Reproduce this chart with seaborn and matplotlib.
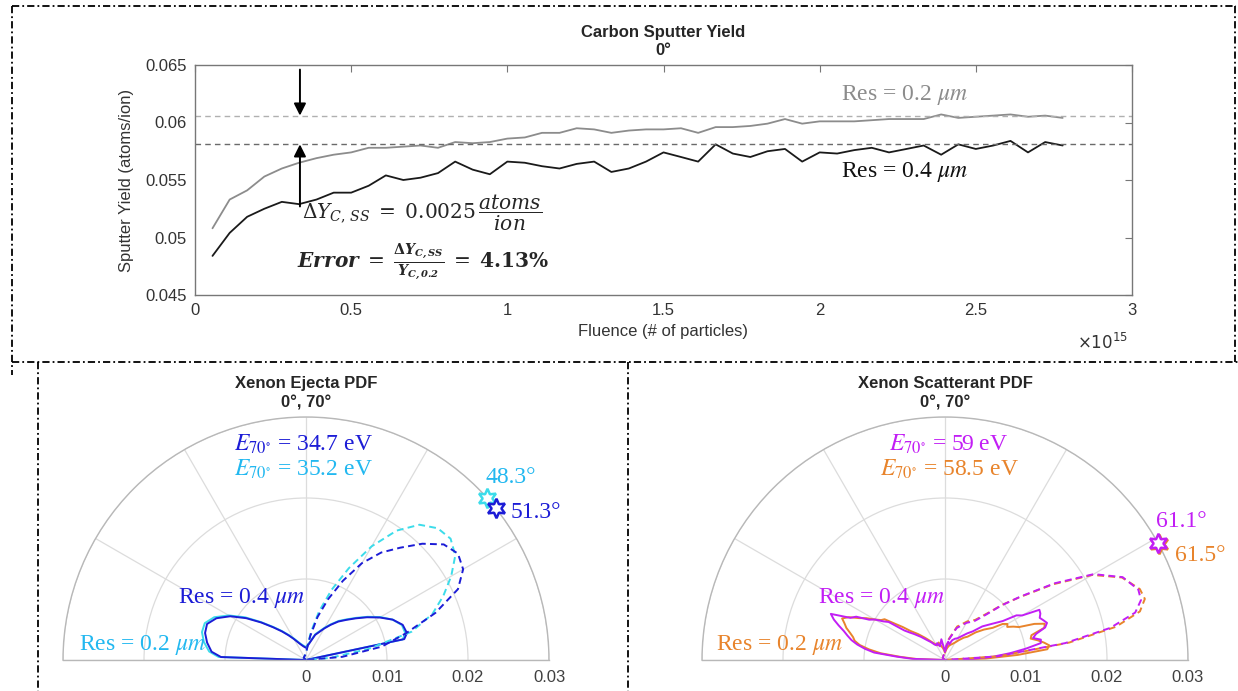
import numpy as np
import matplotlib
matplotlib.use("Agg")
import matplotlib.pyplot as plt
from matplotlib.lines import Line2D
import seaborn as sns

# ---------------- data : top panel ----------------
fluence_e15 = [0.056, 0.111, 0.167, 0.222, 0.278, 0.333, 0.389, 0.444, 0.500, 0.556,
               0.611, 0.667, 0.722, 0.778, 0.833, 0.889, 0.944, 1.000, 1.056, 1.111,
               1.167, 1.222, 1.278, 1.333, 1.389, 1.444, 1.500, 1.556, 1.611, 1.667,
               1.722, 1.778, 1.833, 1.889, 1.944, 2.000, 2.056, 2.111, 2.167, 2.222,
               2.278, 2.333, 2.389, 2.444, 2.500, 2.556, 2.611, 2.667, 2.722, 2.778]
yield_res02 = [0.0508, 0.0533, 0.0541, 0.0553, 0.0560, 0.0565, 0.0569, 0.0572, 0.0574, 0.0578,
               0.0578, 0.0579, 0.0580, 0.0578, 0.0583, 0.0582, 0.0583, 0.0586, 0.0587, 0.0591,
               0.0591, 0.0595, 0.0594, 0.0591, 0.0593, 0.0594, 0.0594, 0.0595, 0.0591, 0.0596,
               0.0596, 0.0597, 0.0599, 0.0603, 0.0599, 0.0601, 0.0601, 0.0601, 0.0602, 0.0603,
               0.0603, 0.0603, 0.0607, 0.0604, 0.0605, 0.0606, 0.0607, 0.0605, 0.0606, 0.0604]
yield_res04 = [0.0484, 0.0504, 0.0518, 0.0525, 0.0531, 0.0529, 0.0533, 0.0539, 0.0539, 0.0545,
               0.0554, 0.0550, 0.0552, 0.0556, 0.0566, 0.0559, 0.0555, 0.0566, 0.0565, 0.0562,
               0.0560, 0.0564, 0.0566, 0.0557, 0.0560, 0.0566, 0.0574, 0.0570, 0.0566, 0.0581,
               0.0573, 0.0570, 0.0575, 0.0577, 0.0566, 0.0574, 0.0573, 0.0576, 0.0578, 0.0574,
               0.0577, 0.0580, 0.0572, 0.0581, 0.0577, 0.0580, 0.0584, 0.0574, 0.0583, 0.0580]
steady_res02 = 0.0606
steady_res04 = 0.0581
x_ticks = [0, 0.5, 1, 1.5, 2, 2.5, 3]
x_tick_labels = ["0", "0.5", "1", "1.5", "2", "2.5", "3"]
y_ticks = [0.045, 0.05, 0.055, 0.06, 0.065]
y_tick_labels = ["0.045", "0.05", "0.055", "0.06", "0.065"]

# ---------------- data : Xenon ejecta PDF (angle from normal, deg) ----------------
ej_solid_theta = [-90, -88, -85, -80, -75, -70, -65, -60, -55, -50, -45, -40, -35, -30, -20, -10,
                  0, 10, 20, 30, 35, 40, 45, 50, 55, 60, 65, 70, 75, 78, 90]
ej_solid_r04 = [0, 0.0105, 0.0117, 0.0124, 0.0129, 0.0130, 0.0122, 0.0108, 0.0090, 0.0072, 0.0057,
                0.0046, 0.0037, 0.0030, 0.0021, 0.0017, 0.0015, 0.0020, 0.0033, 0.0045, 0.0053,
                0.0062, 0.0070, 0.0080, 0.0092, 0.0105, 0.0118, 0.0127, 0.0129, 0.0124, 0]
ej_solid_r02 = [0, 0.0108, 0.0120, 0.0128, 0.0133, 0.0133, 0.0125, 0.0110, 0.0092, 0.0073, 0.0058,
                0.0047, 0.0038, 0.0031, 0.0022, 0.0018, 0.0016, 0.0021, 0.0034, 0.0046, 0.0054,
                0.0063, 0.0071, 0.0081, 0.0093, 0.0106, 0.0118, 0.0126, 0.0127, 0.0122, 0]
ej_dash_theta = [-90, -45, 0, 5, 10, 15, 20, 25, 30, 35, 40, 45, 50, 55, 60, 65, 70, 75, 80, 85, 90]
ej_dash_r04 = [0, 0.0004, 0.0008, 0.0014, 0.0030, 0.0055, 0.0080, 0.0108, 0.0138, 0.0162, 0.0181,
               0.0203, 0.0222, 0.0229, 0.0224, 0.0207, 0.0170, 0.0128, 0.0095, 0.0045, 0]
ej_dash_r02 = [0, 0.0004, 0.0008, 0.0015, 0.0035, 0.0062, 0.0092, 0.0125, 0.0162, 0.0195, 0.0218,
               0.0230, 0.0233, 0.0225, 0.0207, 0.0187, 0.0166, 0.0135, 0.0078, 0.0030, 0]
ej_peak_r04, ej_peak_r02 = 51.3, 48.3
ej_E_r04, ej_E_r02 = "34.7", "35.2"

# ---------------- data : Xenon scatterant PDF ----------------
sc_solid_theta = [-90, -88, -86, -84, -82, -80, -78, -76, -74, -72, -70, -68, -66, -64, -62, -60,
                  -58, -56, -54, -52, -50, -46, -42, -38, -34, -30, -25, -20, -15, -10, -5, 0,
                  5, 10, 15, 20, 25, 30, 35, 40, 44, 48, 52, 56, 58, 60, 62, 64, 66, 68, 70, 72,
                  74, 76, 78, 80, 82, 84, 86, 88, 90]
sc_solid_r04 = [0, 0.0040, 0.0060, 0.0088, 0.0100, 0.0110, 0.0118, 0.0124, 0.0130, 0.0138, 0.0146,
                0.0152, 0.0128, 0.0122, 0.0106, 0.0100, 0.0090, 0.0084, 0.0062, 0.0055, 0.0050,
                0.0041, 0.0033, 0.0028, 0.0023, 0.0021, 0.0023, 0.0018, 0.0021, 0.0026, 0.0015,
                0.0010, 0.0018, 0.0023, 0.0020, 0.0026, 0.0029, 0.0031, 0.0036, 0.0043, 0.0049,
                0.0062, 0.0072, 0.0086, 0.0104, 0.0110, 0.0132, 0.0131, 0.0128, 0.0131, 0.0134,
                0.0130, 0.0117, 0.0112, 0.0121, 0.0120, 0.0101, 0.0081, 0.0060, 0.0031, 0]
sc_solid_r02 = [0, 0.0035, 0.0055, 0.0080, 0.0095, 0.0107, 0.0114, 0.0117, 0.0122, 0.0128, 0.0132,
                0.0137, 0.0130, 0.0118, 0.0110, 0.0100, 0.0093, 0.0090, 0.0076, 0.0066, 0.0056,
                0.0046, 0.0037, 0.0030, 0.0025, 0.0022, 0.0020, 0.0023, 0.0018, 0.0015, 0.0012,
                0.0009, 0.0012, 0.0015, 0.0018, 0.0020, 0.0022, 0.0025, 0.0030, 0.0036, 0.0040,
                0.0051, 0.0061, 0.0071, 0.0084, 0.0089, 0.0087, 0.0094, 0.0100, 0.0119, 0.0131,
                0.0129, 0.0111, 0.0109, 0.0117, 0.0124, 0.0130, 0.0127, 0.0090, 0.0050, 0]
sc_dash_theta = [-90, -45, 0, 10, 20, 30, 37, 42, 46, 50, 55, 60, 65, 70, 73, 76, 79, 82, 86, 90]
sc_dash_r04 = [0, 0.0004, 0.0010, 0.0025, 0.0042, 0.0053, 0.0060, 0.0075, 0.0097, 0.0122, 0.0165,
               0.0212, 0.0242, 0.0254, 0.0253, 0.0242, 0.0208, 0.0150, 0.0065, 0]
sc_dash_r02 = [0, 0.0004, 0.0010, 0.0026, 0.0044, 0.0055, 0.0062, 0.0077, 0.0098, 0.0121, 0.0163,
               0.0210, 0.0241, 0.0256, 0.0258, 0.0248, 0.0215, 0.0155, 0.0068, 0]
sc_peak_r04, sc_peak_r02 = 61.1, 61.5
sc_E_r04, sc_E_r02 = "59", "58.5"

r_ticks = [0, 0.01, 0.02, 0.03]
r_tick_labels = ["0", "0.01", "0.02", "0.03"]
theta_grid = [-90, -60, -30, 0, 30, 60, 90]

# ---------------- style ----------------
sns.set_style("white")
plt.rcParams["font.family"] = ["Liberation Sans", "DejaVu Sans"]
BLUE = "#1c1cd6"
CYAN_L = "#3cdcea"
CYAN_T = "#22b8f0"
PURPLE = "#c21ef5"
ORANGE = "#e8842c"
GRAY_TXT = "#333333"

W, H = 1238, 691
fig = plt.figure(figsize=(W / 100, H / 100), dpi=100)


def fbox(l, t, r, b):
    return [l / W, 1 - b / H, (r - l) / W, (b - t) / H]


def fx(px):
    return px / W


def fy(py):
    return 1 - py / H


# ---------------- top panel ----------------
ax = fig.add_axes(fbox(195, 65, 1132, 295))
sns.lineplot(x=fluence_e15, y=yield_res02, ax=ax, color="#8c8c8c", lw=1.3, legend=False)
sns.lineplot(x=fluence_e15, y=yield_res04, ax=ax, color="#1a1a1a", lw=1.3, legend=False)
ax.axhline(steady_res02, color="#b0b0b0", lw=1.0, ls=(0, (4, 3)))
ax.axhline(steady_res04, color="#6a6a6a", lw=1.0, ls=(0, (4, 3)))
ax.set_xlim(0, 3)
ax.set_ylim(0.045, 0.065)
ax.set_xticks(x_ticks, x_tick_labels)
ax.set_yticks(y_ticks, y_tick_labels)
ax.tick_params(direction="in", top=True, right=True, length=5, colors="#777777",
               labelcolor=GRAY_TXT, labelsize=12, pad=6)
for s in ax.spines.values():
    s.set_color("#777777")
    s.set_linewidth(1.0)
ax.set_xlabel("Fluence (# of particles)", fontsize=12, color=GRAY_TXT, labelpad=4)
ax.set_ylabel("Sputter Yield (atoms/ion)", fontsize=12, color=GRAY_TXT, labelpad=8)
ax.set_title("Carbon Sputter Yield\n0°", fontweight="bold", fontsize=12, pad=7, linespacing=1.25)
fig.text(fx(1128), fy(342), r"$\times10^{15}$", ha="right", va="center", fontsize=12,
         color=GRAY_TXT, math_fontfamily="dejavusans")

arrow_x = 0.336
ax.annotate("", xy=(arrow_x, steady_res02), xytext=(arrow_x, 0.0646),
            arrowprops=dict(arrowstyle="-|>", color="black", lw=1.4, mutation_scale=18,
                            shrinkA=0, shrinkB=0))
ax.annotate("", xy=(arrow_x, steady_res04), xytext=(arrow_x, 0.0527),
            arrowprops=dict(arrowstyle="-|>", color="black", lw=1.4, mutation_scale=18,
                            shrinkA=0, shrinkB=0))
delta_val = steady_res02 - steady_res04
ax.text(0.343, 0.0521, r"$\Delta Y_{C,\,SS}\;=\;%.4f\,\dfrac{atoms}{ion}$" % delta_val,
        fontsize=14.5, math_fontfamily="dejavuserif", va="center", ha="left")
ax.text(0.327, 0.0479,
        r"$\mathbfit{Error}\;=\;\frac{\mathbf{\Delta} \mathbfit{Y}_{\mathbfit{C,SS}}}"
        r"{\mathbfit{Y}_{\mathbfit{C,0.2}}}\;=\;\mathbf{4.13\%}$",
        fontsize=14.5, math_fontfamily="dejavuserif", va="center", ha="left")
ax.text(2.068, 0.0624, r"Res = 0.2 $\mu m$", color="#8c8c8c", family="Liberation Serif",
        math_fontfamily="stix", fontsize=17, va="center", ha="left")
ax.text(2.068, 0.0557, r"Res = 0.4 $\mu m$", color="#111111", family="Liberation Serif",
        math_fontfamily="stix", fontsize=17, va="center", ha="left")


# ---------------- polar panels ----------------
# polar half-disk sits vertically centred inside a square box: box side = 2*radius
def polar_panel(cx, cy, rad, title):
    pax = fig.add_axes(fbox(cx - rad, cy - 1.5 * rad, cx + rad, cy + 0.5 * rad),
                       projection="polar")
    pax.set_theta_zero_location("N")
    pax.set_theta_direction(-1)
    pax.set_thetamin(-90)
    pax.set_thetamax(90)
    pax.set_xticks(np.deg2rad(theta_grid))
    pax.set_xticklabels([])
    pax.set_rticks(r_ticks[1:])
    pax.set_yticklabels([])
    pax.grid(True, color="#dcdcdc", lw=0.9)
    for s in pax.spines.values():
        s.set_color("#b8b8b8")
        s.set_linewidth(1.0)
    fig.text(fx(cx), fy(cy - rad - 24), title, fontweight="bold", fontsize=12,
             ha="center", va="center", linespacing=1.4)
    for r, lab in zip(r_ticks, r_tick_labels):
        pax.annotate(lab, xy=(np.pi / 2, r), xytext=(0, -7), textcoords="offset points",
                     ha="center", va="top", fontsize=12, color="#404040",
                     annotation_clip=False)
    return pax


def pline(pax, theta, r, color, dashed=False):
    kw = dict(ls=(0, (3.5, 2.2))) if dashed else {}
    sns.lineplot(x=np.deg2rad(theta), y=r, sort=False, estimator=None, ax=pax,
                 color=color, lw=1.4, legend=False, **kw)


def star(pax, ang, color):
    pax.plot(np.deg2rad(ang), 0.03, marker=(6, 1, 0), ms=14, mfc="white", mec=color,
             mew=1.8, clip_on=False, zorder=6)


serif = dict(family="Liberation Serif", math_fontfamily="stix", fontsize=17)

# ejecta
pe = polar_panel(306, 660, 243, "Xenon Ejecta PDF\n0°, 70°")
pline(pe, ej_solid_theta, ej_solid_r02, CYAN_L)
pline(pe, ej_solid_theta, ej_solid_r04, BLUE)
pline(pe, ej_dash_theta, ej_dash_r02, CYAN_L, dashed=True)
pline(pe, ej_dash_theta, ej_dash_r04, BLUE, dashed=True)
star(pe, ej_peak_r02, CYAN_L)
star(pe, ej_peak_r04, BLUE)
pe.set_rlim(0, 0.03)
pe.set_xlabel("")
pe.set_ylabel("")
pe.annotate(f"{ej_peak_r02}°", xy=(np.deg2rad(ej_peak_r02), 0.03), xytext=(-1.5, 15),
            textcoords="offset points", ha="left", va="center", color=CYAN_T,
            annotation_clip=False, **serif)
pe.annotate(f"{ej_peak_r04}°", xy=(np.deg2rad(ej_peak_r04), 0.03), xytext=(11, -3.5),
            textcoords="offset points", ha="left", va="center", color=BLUE,
            annotation_clip=False, **serif)
fig.text(fx(303), fy(444), r"$E_{70^{\circ}}$ = " + ej_E_r04 + " eV", ha="center", va="center",
         color=BLUE, **serif)
fig.text(fx(303), fy(469), r"$E_{70^{\circ}}$ = " + ej_E_r02 + " eV", ha="center", va="center",
         color=CYAN_T, **serif)
fig.text(fx(178), fy(598), r"Res = 0.4 $\mu m$", ha="left", va="center", color=BLUE, **serif)
fig.text(fx(79), fy(645), r"Res = 0.2 $\mu m$", ha="left", va="center", color=CYAN_T, **serif)

# scatterant
ps = polar_panel(945, 660, 243, "Xenon Scatterant PDF\n0°, 70°")
pline(ps, sc_solid_theta, sc_solid_r02, ORANGE)
pline(ps, sc_solid_theta, sc_solid_r04, PURPLE)
pline(ps, sc_dash_theta, sc_dash_r02, ORANGE, dashed=True)
pline(ps, sc_dash_theta, sc_dash_r04, PURPLE, dashed=True)
star(ps, sc_peak_r02, ORANGE)
star(ps, sc_peak_r04, PURPLE)
ps.set_rlim(0, 0.03)
ps.set_xlabel("")
ps.set_ylabel("")
ps.annotate(f"{sc_peak_r04}°", xy=(np.deg2rad(sc_peak_r04), 0.03), xytext=(-1.5, 15),
            textcoords="offset points", ha="left", va="center", color=PURPLE,
            annotation_clip=False, **serif)
ps.annotate(f"{sc_peak_r02}°", xy=(np.deg2rad(sc_peak_r02), 0.03), xytext=(11.5, -8),
            textcoords="offset points", ha="left", va="center", color=ORANGE,
            annotation_clip=False, **serif)
fig.text(fx(949), fy(444), r"$E_{70^{\circ}}$ = " + sc_E_r04 + " eV", ha="center", va="center",
         color=PURPLE, **serif)
fig.text(fx(949), fy(469), r"$E_{70^{\circ}}$ = " + sc_E_r02 + " eV", ha="center", va="center",
         color=ORANGE, **serif)
fig.text(fx(818), fy(598), r"Res = 0.4 $\mu m$", ha="left", va="center", color=PURPLE, **serif)
fig.text(fx(716), fy(645), r"Res = 0.2 $\mu m$", ha="left", va="center", color=ORANGE, **serif)

# ---------------- dash-dot separators ----------------
sep = dict(color="black", lw=1.3, ls=(0, (4, 1.7, 1, 1.7)), transform=fig.transFigure)
for (x0, y0, x1, y1) in [(12, 6, 1236, 6), (12, 6, 12, 375), (1235, 6, 1235, 362),
                         (12, 362, 1238, 362), (38, 362, 38, 691), (628, 362, 628, 691)]:
    fig.add_artist(Line2D([fx(x0), fx(x1)], [fy(y0), fy(y1)], **sep))

fig.savefig("out.png", dpi=100)
